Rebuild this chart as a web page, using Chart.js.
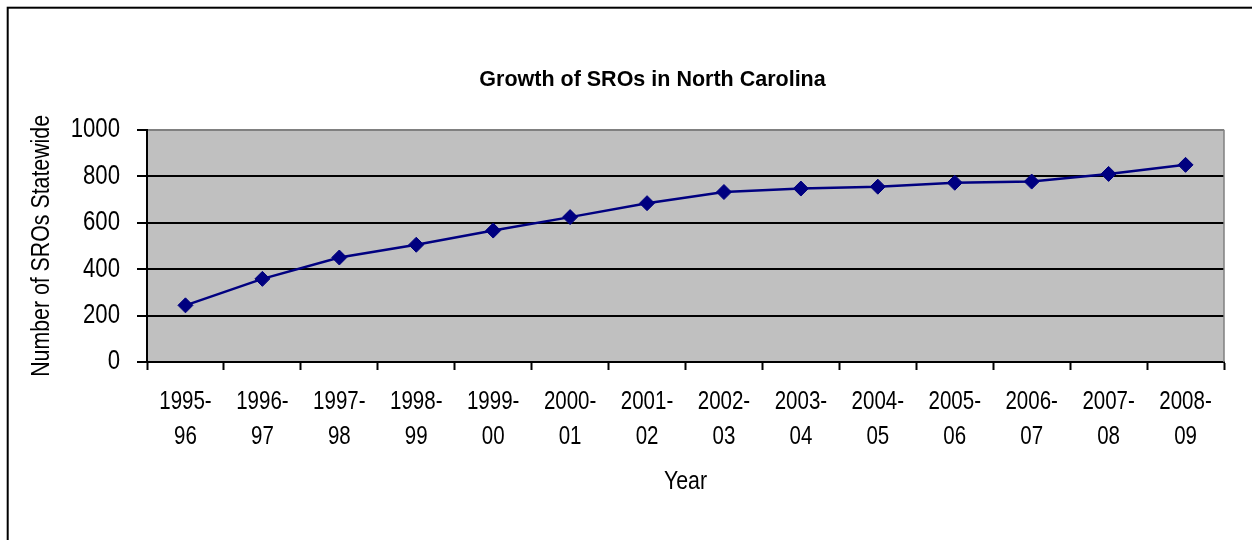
<!DOCTYPE html>
<html>
<head>
<meta charset="utf-8">
<script src="https://cdn.jsdelivr.net/npm/chart.js@4/dist/chart.umd.min.js"></script>
<style>
html,body{margin:0;padding:0;background:#fff;}
#wrap{width:1252px;height:540px;position:relative;}
</style>
</head>
<body>
<div id="wrap"><canvas id="c"></canvas></div>
<script>
const categories = ['1995-96','1996-97','1997-98','1998-99','1999-00','2000-01','2001-02','2002-03','2003-04','2004-05','2005-06','2006-07','2007-08','2008-09'];
const sroCounts = [244, 358, 450, 505, 566, 624, 684, 732, 747, 755, 772, 777, 810, 849];
const yMin = 0, yMax = 1000, yStep = 200;
const chartTitle = 'Growth of SROs in North Carolina';
const xTitle = 'Year';
const yTitle = 'Number of SROs Statewide';

const narrow = "'Liberation Sans Narrow', 'Arial Narrow', 'Liberation Sans', Arial, sans-serif";
const regular = "'Liberation Sans', Arial, sans-serif";
Chart.defaults.font.family = narrow;
Chart.defaults.color = '#000';

// axis text in the reference is a narrow face; no narrow face is installed,
// so non-bold text is drawn horizontally condensed around its anchor point.
const NARROW_SCALE = 0.82;
function patchText(ctx) {
  if (ctx.__patched) return;
  ctx.__patched = true;
  const orig = ctx.fillText.bind(ctx);
  ctx.fillText = function(t, x, y, mw) {
    if (/bold/.test(ctx.font)) { return mw === undefined ? orig(t, x, y) : orig(t, x, y, mw); }
    ctx.save();
    ctx.translate(x, y);
    ctx.scale(NARROW_SCALE, 1);
    orig(t, 0, 0);
    ctx.restore();
  };
}

const decor = {
  id: 'decor',
  afterLayout(chart) {
    if (chart.titleBlock) { chart.titleBlock.left = 53; chart.titleBlock.right = 1252; }
  },
  beforeDraw(chart) {
    const {ctx, chartArea: a} = chart;
    patchText(ctx);
    ctx.save();
    ctx.fillStyle = '#fff';
    ctx.fillRect(0, 0, chart.width, chart.height);
    ctx.fillStyle = '#C0C0C0';
    ctx.fillRect(a.left, a.top, a.right - a.left, a.bottom - a.top);
    ctx.restore();
  },
  beforeDatasetsDraw(chart) {
    const {ctx, chartArea: a} = chart;
    ctx.save();
    ctx.strokeStyle = '#808080';
    ctx.lineWidth = 1.5;
    ctx.beginPath();
    ctx.moveTo(a.right, a.top);
    ctx.lineTo(a.right, a.bottom);
    ctx.stroke();
    ctx.restore();
  },
  afterDraw(chart) {
    const {ctx} = chart;
    ctx.save();
    ctx.strokeStyle = '#000';
    ctx.lineWidth = 2;
    ctx.strokeRect(7.7, 7.7, 3000, 3000);
    ctx.restore();
  }
};

new Chart(document.getElementById('c'), {
  type: 'line',
  data: {
    labels: categories,
    datasets: [{
      data: sroCounts,
      borderColor: '#000080',
      backgroundColor: '#000080',
      borderWidth: 2.5,
      tension: 0,
      pointStyle: 'rectRot',
      pointRadius: 7.5,
      pointHoverRadius: 7.5,
      pointBackgroundColor: '#000080',
      pointBorderColor: '#000080',
      pointBorderWidth: 1,
      clip: false
    }]
  },
  options: {
    responsive: true,
    maintainAspectRatio: false,
    animation: false,
    events: [],
    layout: {padding: {left: 0, right: 28, top: 0, bottom: 0}},
    plugins: {
      legend: {display: false},
      tooltip: {enabled: false},
      title: {
        display: true,
        text: chartTitle,
        color: '#000',
        font: {family: regular, size: 21.5, weight: 'bold', lineHeight: 1.2},
        padding: {top: 67, bottom: 37}
      }
    },
    scales: {
      x: {
        offset: true,
        grid: {offset: true, drawOnChartArea: false, drawTicks: true, tickLength: 8, tickColor: '#000', tickWidth: 2},
        border: {color: '#000', width: 2},
        ticks: {
          font: {size: 25, lineHeight: 1.41},
          color: '#000',
          padding: 14,
          maxRotation: 0,
          minRotation: 0,
          autoSkip: false,
          callback: function(v) {
            const s = this.getLabelForValue(v);
            const k = s.indexOf('-');
            return [s.slice(0, k + 1), s.slice(k + 1)];
          }
        },
        title: {display: true, text: xTitle, color: '#000', font: {size: 26}, padding: {top: 0, bottom: 43}},
        afterFit: s => { s.height = 178; }
      },
      y: {
        min: yMin,
        max: yMax,
        ticks: {stepSize: yStep, font: {size: 27}, color: '#000', padding: 17, callback: v => String(v)},
        grid: {
          color: c => (c.tick && c.tick.value === yMax) ? '#808080' : '#000',
          lineWidth: 2,
          tickLength: 10,
          tickColor: '#000',
          tickWidth: 2
        },
        border: {color: '#000', width: 2},
        title: {display: true, text: yTitle, color: '#000', font: {size: 26}, padding: {top: 26, bottom: 0}},
        afterFit: s => { s.width = 147; }
      }
    }
  },
  plugins: [decor]
});
</script>
</body>
</html>
